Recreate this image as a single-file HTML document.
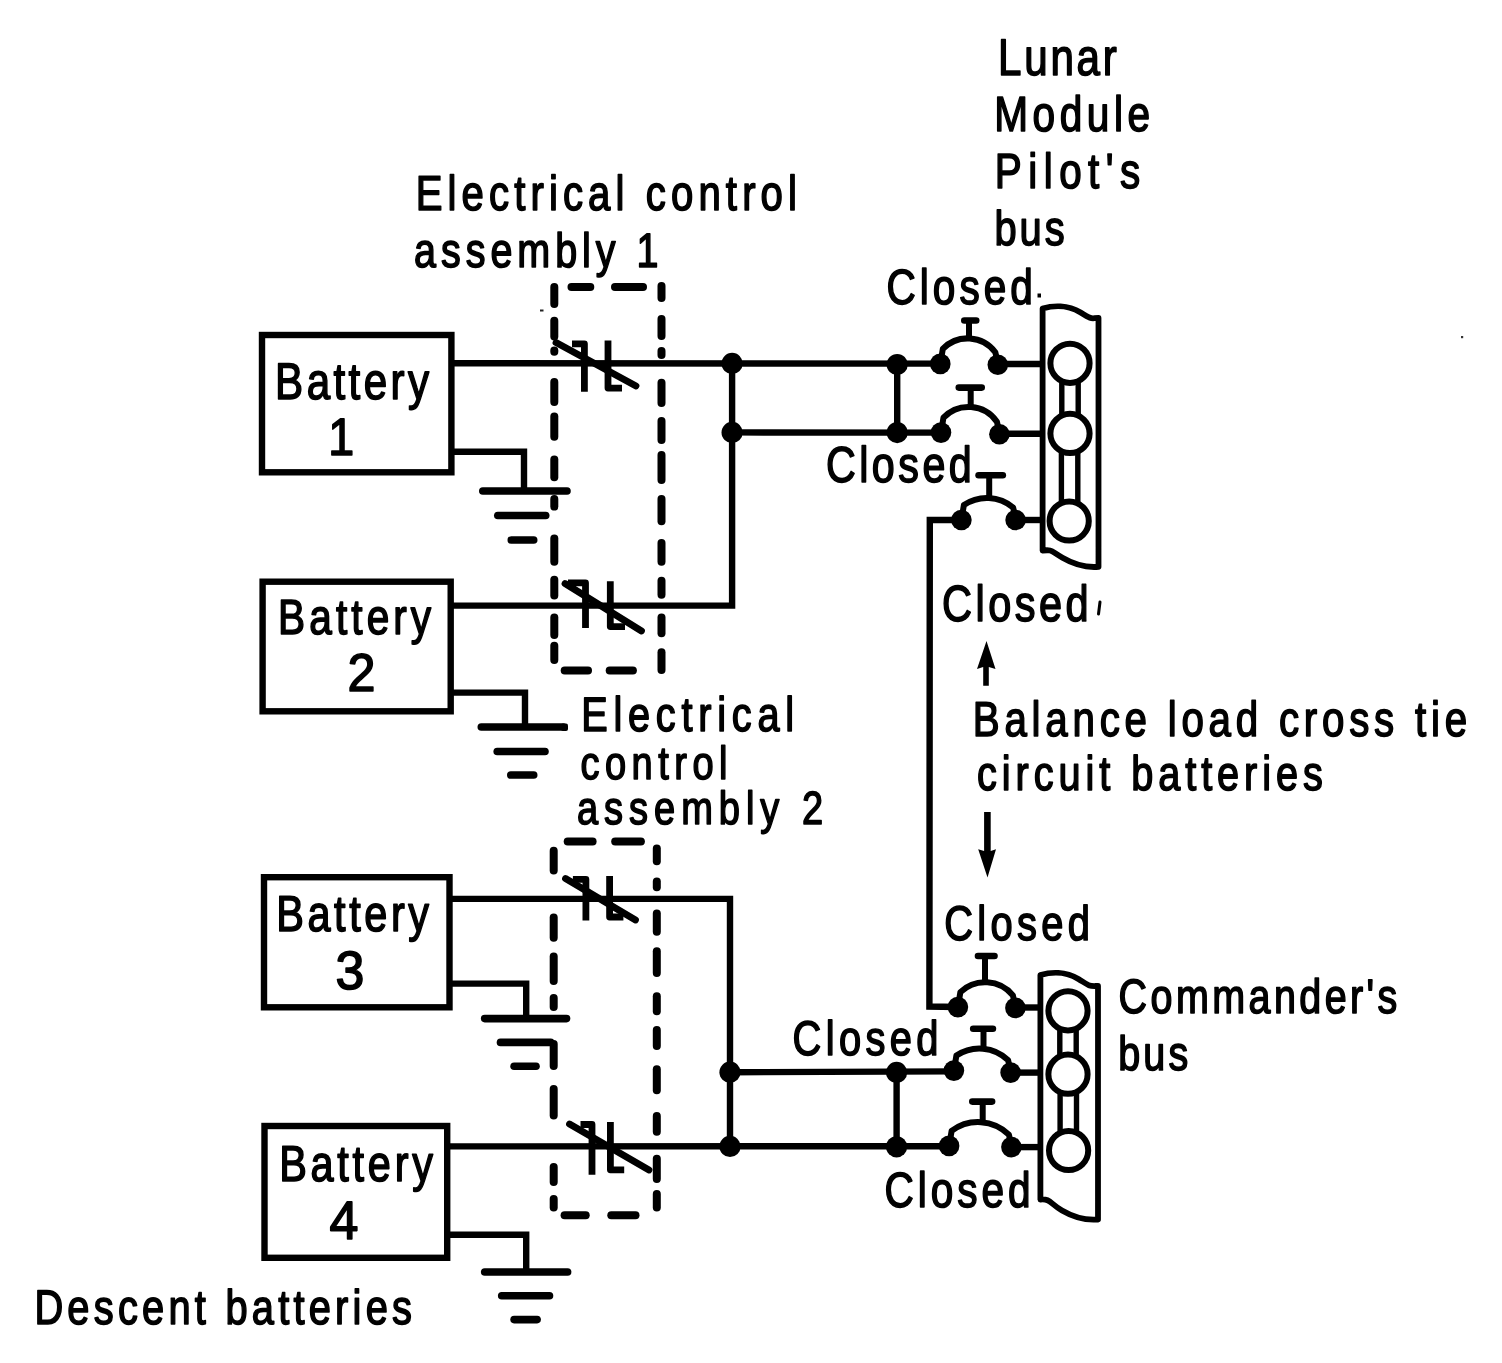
<!DOCTYPE html>
<html><head><meta charset="utf-8"><title>LM electrical</title>
<style>html,body{margin:0;padding:0;background:#fff;} svg{display:block;}</style></head>
<body>
<svg width="1502" height="1363" viewBox="0 0 1502 1363">
<rect width="1502" height="1363" fill="#fff"/>
<g stroke="#000" fill="none">
<rect x="262.0" y="335.0" width="189.4" height="137.3" fill="none" stroke-width="6.4"/>
<rect x="262.6" y="581.7" width="188.1" height="129.6" fill="none" stroke-width="6.4"/>
<rect x="264.0" y="877.2" width="185.5" height="130.1" fill="none" stroke-width="6.4"/>
<rect x="264.5" y="1126.0" width="182.7" height="131.8" fill="none" stroke-width="6.4"/>
<polyline points="451.4,451.8 524.0,451.8 524.0,491.0" fill="none" stroke-width="6.4" stroke-linecap="butt" stroke-linejoin="miter"/>
<line x1="482.8" y1="491.0" x2="567.0" y2="491.0" stroke-width="7.6" stroke-linecap="round"/>
<line x1="497.8" y1="515.5" x2="545.7" y2="515.5" stroke-width="7.6" stroke-linecap="round"/>
<line x1="511.3" y1="540.0" x2="533.7" y2="540.0" stroke-width="7.6" stroke-linecap="round"/>
<polyline points="450.7,692.6 525.0,692.6 525.0,727.0" fill="none" stroke-width="6.4" stroke-linecap="butt" stroke-linejoin="miter"/>
<line x1="481.3" y1="727.0" x2="563.1" y2="727.0" stroke-width="7.6" stroke-linecap="round"/>
<line x1="497.2" y1="751.5" x2="545.0" y2="751.5" stroke-width="7.6" stroke-linecap="round"/>
<line x1="510.8" y1="775.0" x2="533.7" y2="775.0" stroke-width="7.6" stroke-linecap="round"/>
<polyline points="449.5,983.6 526.2,983.6 526.2,1018.6" fill="none" stroke-width="6.4" stroke-linecap="butt" stroke-linejoin="miter"/>
<line x1="484.7" y1="1018.6" x2="566.5" y2="1018.6" stroke-width="7.6" stroke-linecap="round"/>
<line x1="500.5" y1="1042.4" x2="550.7" y2="1042.4" stroke-width="7.6" stroke-linecap="round"/>
<line x1="514.1" y1="1066.2" x2="536.0" y2="1066.2" stroke-width="7.6" stroke-linecap="round"/>
<polyline points="447.2,1234.7 526.2,1234.7 526.2,1272.0" fill="none" stroke-width="6.4" stroke-linecap="butt" stroke-linejoin="miter"/>
<line x1="484.7" y1="1272.0" x2="567.6" y2="1272.0" stroke-width="7.6" stroke-linecap="round"/>
<line x1="501.7" y1="1295.8" x2="549.5" y2="1295.8" stroke-width="7.6" stroke-linecap="round"/>
<line x1="514.1" y1="1319.6" x2="537.1" y2="1319.6" stroke-width="7.6" stroke-linecap="round"/>
<line x1="451.4" y1="363.2" x2="940.3" y2="363.6" stroke-width="6.4" stroke-linecap="butt"/>
<polyline points="450.7,605.6 732.1,605.6 732.1,363.4" fill="none" stroke-width="6.4" stroke-linecap="butt" stroke-linejoin="miter"/>
<line x1="732.1" y1="432.4" x2="941.0" y2="432.6" stroke-width="6.4" stroke-linecap="butt"/>
<line x1="897.2" y1="363.6" x2="897.2" y2="432.6" stroke-width="6.4" stroke-linecap="butt"/>
<polyline points="449.5,898.9 730.0,898.9 730.0,1146.4" fill="none" stroke-width="6.4" stroke-linecap="butt" stroke-linejoin="miter"/>
<line x1="447.2" y1="1146.4" x2="949.1" y2="1146.2" stroke-width="6.4" stroke-linecap="butt"/>
<line x1="730.0" y1="1072.2" x2="953.9" y2="1071.4" stroke-width="6.4" stroke-linecap="butt"/>
<line x1="896.6" y1="1072.2" x2="896.6" y2="1146.6" stroke-width="6.4" stroke-linecap="butt"/>
<circle cx="732.1" cy="363.4" r="10.6" fill="#000" stroke="none"/>
<circle cx="732.1" cy="432.4" r="10.6" fill="#000" stroke="none"/>
<circle cx="897.2" cy="364.5" r="10.6" fill="#000" stroke="none"/>
<circle cx="897.2" cy="432.6" r="10.6" fill="#000" stroke="none"/>
<circle cx="730.0" cy="1072.2" r="10.6" fill="#000" stroke="none"/>
<circle cx="730.0" cy="1146.4" r="10.6" fill="#000" stroke="none"/>
<circle cx="896.6" cy="1072.4" r="10.6" fill="#000" stroke="none"/>
<circle cx="896.6" cy="1146.8" r="10.6" fill="#000" stroke="none"/>
<polyline points="572.0,343.8 584.4,343.8 584.4,391.7" fill="none" stroke-width="6.8" stroke-linecap="butt" stroke-linejoin="round"/>
<polyline points="608.0,340.4 608.0,388.1 622.0,388.1" fill="none" stroke-width="6.8" stroke-linecap="butt" stroke-linejoin="round"/>
<line x1="556.0" y1="342.5" x2="636.0" y2="386.0" stroke-width="6.8" stroke-linecap="round"/>
<polyline points="568.0,582.8 585.5,582.8 585.5,628.0" fill="none" stroke-width="6.8" stroke-linecap="butt" stroke-linejoin="round"/>
<polyline points="610.3,581.3 610.3,626.6 625.0,626.6" fill="none" stroke-width="6.8" stroke-linecap="butt" stroke-linejoin="round"/>
<line x1="565.0" y1="583.5" x2="641.5" y2="631.0" stroke-width="6.8" stroke-linecap="round"/>
<polyline points="572.9,879.4 585.9,879.4 585.9,920.4" fill="none" stroke-width="6.8" stroke-linecap="butt" stroke-linejoin="round"/>
<polyline points="609.6,876.0 609.6,917.0 623.4,917.0" fill="none" stroke-width="6.8" stroke-linecap="butt" stroke-linejoin="round"/>
<line x1="565.5" y1="878.5" x2="635.5" y2="920.0" stroke-width="6.8" stroke-linecap="round"/>
<polyline points="580.5,1124.5 592.0,1124.5 592.0,1174.7" fill="none" stroke-width="6.8" stroke-linecap="butt" stroke-linejoin="round"/>
<polyline points="610.4,1121.9 610.4,1169.8 624.2,1169.8" fill="none" stroke-width="6.8" stroke-linecap="butt" stroke-linejoin="round"/>
<line x1="569.5" y1="1124.0" x2="649.0" y2="1170.0" stroke-width="6.8" stroke-linecap="round"/>
<line x1="554.3" y1="287.0" x2="554.3" y2="304.0" stroke-width="8.0" stroke-linecap="round"/>
<line x1="554.3" y1="320.7" x2="554.3" y2="336.4" stroke-width="8.0" stroke-linecap="round"/>
<line x1="554.3" y1="350.6" x2="554.3" y2="351.8" stroke-width="8.0" stroke-linecap="round"/>
<line x1="554.3" y1="382.0" x2="554.3" y2="402.0" stroke-width="8.0" stroke-linecap="round"/>
<line x1="554.3" y1="416.4" x2="554.3" y2="436.7" stroke-width="8.0" stroke-linecap="round"/>
<line x1="554.3" y1="459.6" x2="554.3" y2="477.3" stroke-width="8.0" stroke-linecap="round"/>
<line x1="554.3" y1="499.0" x2="554.3" y2="506.6" stroke-width="8.0" stroke-linecap="round"/>
<line x1="554.3" y1="538.5" x2="554.3" y2="561.7" stroke-width="8.0" stroke-linecap="round"/>
<line x1="554.3" y1="579.8" x2="554.3" y2="595.6" stroke-width="8.0" stroke-linecap="round"/>
<line x1="554.3" y1="617.4" x2="554.3" y2="635.0" stroke-width="8.0" stroke-linecap="round"/>
<line x1="554.3" y1="645.8" x2="554.3" y2="659.9" stroke-width="8.0" stroke-linecap="round"/>
<line x1="661.5" y1="286.0" x2="661.5" y2="298.0" stroke-width="8.0" stroke-linecap="round"/>
<line x1="661.5" y1="319.0" x2="661.5" y2="336.0" stroke-width="8.0" stroke-linecap="round"/>
<line x1="661.5" y1="351.0" x2="661.5" y2="355.0" stroke-width="8.0" stroke-linecap="round"/>
<line x1="661.5" y1="382.7" x2="661.5" y2="403.0" stroke-width="8.0" stroke-linecap="round"/>
<line x1="661.5" y1="421.0" x2="661.5" y2="440.0" stroke-width="8.0" stroke-linecap="round"/>
<line x1="661.5" y1="455.0" x2="661.5" y2="480.0" stroke-width="8.0" stroke-linecap="round"/>
<line x1="661.5" y1="499.0" x2="661.5" y2="521.3" stroke-width="8.0" stroke-linecap="round"/>
<line x1="661.5" y1="543.0" x2="661.5" y2="561.7" stroke-width="8.0" stroke-linecap="round"/>
<line x1="661.5" y1="580.7" x2="661.5" y2="594.7" stroke-width="8.0" stroke-linecap="round"/>
<line x1="661.5" y1="617.4" x2="661.5" y2="633.2" stroke-width="8.0" stroke-linecap="round"/>
<line x1="661.5" y1="652.3" x2="661.5" y2="670.0" stroke-width="8.0" stroke-linecap="round"/>
<line x1="571.5" y1="287.0" x2="590.3" y2="287.0" stroke-width="8.0" stroke-linecap="round"/>
<line x1="615.0" y1="287.0" x2="643.0" y2="287.0" stroke-width="8.0" stroke-linecap="round"/>
<line x1="564.7" y1="670.5" x2="588.0" y2="670.5" stroke-width="8.0" stroke-linecap="round"/>
<line x1="609.7" y1="670.5" x2="632.9" y2="670.5" stroke-width="8.0" stroke-linecap="round"/>
<line x1="553.7" y1="850.8" x2="553.7" y2="870.4" stroke-width="8.0" stroke-linecap="round"/>
<line x1="553.7" y1="917.5" x2="553.7" y2="937.8" stroke-width="8.0" stroke-linecap="round"/>
<line x1="553.7" y1="956.5" x2="553.7" y2="981.0" stroke-width="8.0" stroke-linecap="round"/>
<line x1="553.7" y1="998.0" x2="553.7" y2="1007.0" stroke-width="8.0" stroke-linecap="round"/>
<line x1="553.7" y1="1044.0" x2="553.7" y2="1066.0" stroke-width="8.0" stroke-linecap="round"/>
<line x1="553.7" y1="1089.0" x2="553.7" y2="1115.6" stroke-width="8.0" stroke-linecap="round"/>
<line x1="553.7" y1="1167.0" x2="553.7" y2="1182.0" stroke-width="8.0" stroke-linecap="round"/>
<line x1="553.7" y1="1199.0" x2="553.7" y2="1207.5" stroke-width="8.0" stroke-linecap="round"/>
<line x1="656.8" y1="848.5" x2="656.8" y2="861.2" stroke-width="8.0" stroke-linecap="round"/>
<line x1="656.8" y1="881.5" x2="656.8" y2="887.3" stroke-width="8.0" stroke-linecap="round"/>
<line x1="656.8" y1="913.6" x2="656.8" y2="931.7" stroke-width="8.0" stroke-linecap="round"/>
<line x1="656.8" y1="951.2" x2="656.8" y2="973.0" stroke-width="8.0" stroke-linecap="round"/>
<line x1="656.8" y1="996.3" x2="656.8" y2="1011.3" stroke-width="8.0" stroke-linecap="round"/>
<line x1="656.8" y1="1030.0" x2="656.8" y2="1046.0" stroke-width="8.0" stroke-linecap="round"/>
<line x1="656.8" y1="1069.2" x2="656.8" y2="1090.3" stroke-width="8.0" stroke-linecap="round"/>
<line x1="656.8" y1="1115.9" x2="656.8" y2="1131.7" stroke-width="8.0" stroke-linecap="round"/>
<line x1="656.8" y1="1158.8" x2="656.8" y2="1179.1" stroke-width="8.0" stroke-linecap="round"/>
<line x1="656.8" y1="1194.0" x2="656.8" y2="1207.5" stroke-width="8.0" stroke-linecap="round"/>
<line x1="567.7" y1="841.5" x2="592.6" y2="841.5" stroke-width="8.0" stroke-linecap="round"/>
<line x1="615.2" y1="841.5" x2="640.9" y2="841.5" stroke-width="8.0" stroke-linecap="round"/>
<line x1="564.6" y1="1215.3" x2="585.7" y2="1215.3" stroke-width="8.0" stroke-linecap="round"/>
<line x1="611.3" y1="1215.3" x2="635.5" y2="1215.3" stroke-width="8.0" stroke-linecap="round"/>
<circle cx="940.3" cy="363.9" r="10.3" fill="#000" stroke="none"/>
<circle cx="997.8" cy="364.7" r="10.3" fill="#000" stroke="none"/>
<path d="M941.3,357.9 L942.8,348.9 A34.6,34.6 0 0 1 995.3,352.2 L996.8,358.7" fill="none" stroke-width="6.0" stroke-linecap="butt" stroke-linejoin="round"/>
<line x1="969.0" y1="338.4" x2="969.0" y2="320.5" stroke-width="6.0" stroke-linecap="butt"/>
<line x1="964.3" y1="320.5" x2="976.2" y2="320.5" stroke-width="6.6" stroke-linecap="round"/>
<circle cx="941.0" cy="432.6" r="10.3" fill="#000" stroke="none"/>
<circle cx="999.4" cy="434.2" r="10.3" fill="#000" stroke="none"/>
<path d="M942.0,426.6 L943.5,417.6 A34.7,34.7 0 0 1 996.9,421.7 L998.4,428.2" fill="none" stroke-width="6.0" stroke-linecap="butt" stroke-linejoin="round"/>
<line x1="970.7" y1="407.0" x2="970.7" y2="387.6" stroke-width="6.0" stroke-linecap="butt"/>
<line x1="958.8" y1="387.6" x2="981.7" y2="387.6" stroke-width="6.6" stroke-linecap="round"/>
<circle cx="961.4" cy="520.0" r="10.3" fill="#000" stroke="none"/>
<circle cx="1015.6" cy="520.0" r="10.3" fill="#000" stroke="none"/>
<path d="M962.4,514.0 L963.9,505.0 A40.8,40.8 0 0 1 1013.1,507.5 L1014.6,514.0" fill="none" stroke-width="6.0" stroke-linecap="butt" stroke-linejoin="round"/>
<line x1="989.2" y1="498.0" x2="989.2" y2="475.2" stroke-width="6.0" stroke-linecap="butt"/>
<line x1="978.6" y1="475.2" x2="1002.8" y2="475.2" stroke-width="6.6" stroke-linecap="round"/>
<circle cx="957.9" cy="1007.1" r="10.3" fill="#000" stroke="none"/>
<circle cx="1015.4" cy="1007.9" r="10.3" fill="#000" stroke="none"/>
<path d="M958.9,1001.1 L960.4,992.1 A36.0,36.0 0 0 1 1012.9,995.4 L1014.4,1001.9" fill="none" stroke-width="6.0" stroke-linecap="butt" stroke-linejoin="round"/>
<line x1="985.0" y1="982.3" x2="985.0" y2="956.0" stroke-width="6.0" stroke-linecap="butt"/>
<line x1="978.0" y1="956.0" x2="994.5" y2="956.0" stroke-width="6.6" stroke-linecap="round"/>
<circle cx="953.9" cy="1070.6" r="10.3" fill="#000" stroke="none"/>
<circle cx="1010.6" cy="1072.6" r="10.3" fill="#000" stroke="none"/>
<path d="M954.9,1064.6 L956.4,1055.6 A41.1,41.1 0 0 1 1008.1,1060.1 L1009.6,1066.6" fill="none" stroke-width="6.0" stroke-linecap="butt" stroke-linejoin="round"/>
<line x1="983.5" y1="1048.7" x2="983.5" y2="1028.7" stroke-width="6.0" stroke-linecap="butt"/>
<line x1="973.2" y1="1028.7" x2="992.9" y2="1028.7" stroke-width="6.6" stroke-linecap="round"/>
<circle cx="949.1" cy="1145.9" r="10.3" fill="#000" stroke="none"/>
<circle cx="1011.4" cy="1147.1" r="10.3" fill="#000" stroke="none"/>
<path d="M950.1,1139.9 L951.6,1130.9 A44.1,44.1 0 0 1 1008.9,1134.6 L1010.4,1141.1" fill="none" stroke-width="6.0" stroke-linecap="butt" stroke-linejoin="round"/>
<line x1="982.7" y1="1122.3" x2="982.7" y2="1101.6" stroke-width="6.0" stroke-linecap="butt"/>
<line x1="972.3" y1="1101.6" x2="992.1" y2="1101.6" stroke-width="6.6" stroke-linecap="round"/>
<line x1="997.8" y1="364.0" x2="1043.0" y2="364.0" stroke-width="6.4" stroke-linecap="butt"/>
<line x1="999.4" y1="433.8" x2="1043.0" y2="433.8" stroke-width="6.4" stroke-linecap="butt"/>
<line x1="1015.6" y1="520.0" x2="1043.0" y2="520.0" stroke-width="6.4" stroke-linecap="butt"/>
<line x1="1015.4" y1="1007.5" x2="1040.0" y2="1007.5" stroke-width="6.4" stroke-linecap="butt"/>
<line x1="1010.6" y1="1072.6" x2="1040.0" y2="1072.6" stroke-width="6.4" stroke-linecap="butt"/>
<line x1="1011.4" y1="1147.1" x2="1040.0" y2="1147.1" stroke-width="6.4" stroke-linecap="butt"/>
<polyline points="961.4,520.0 929.8,520.0 929.4,1006.5 957.9,1007.0" fill="none" stroke-width="6.4" stroke-linecap="butt" stroke-linejoin="miter"/>
<path d="M1042.6,550.5 L1042.6,308.5 C1052.6,305.5 1067.6,304.5 1080.6,312.5 S1090.6,318.0 1098.5,318.0 L1098.5,566.8 C1086.5,567.8 1074.5,564.8 1062.5,557.8 S1052.6,549.5 1042.6,550.5 Z" fill="none" stroke-width="5.8" stroke-linecap="butt" stroke-linejoin="round"/>
<rect x="1061.8" y="363.3" width="16.4" height="70.1" fill="#fff" stroke-width="5.4"/>
<rect x="1061.4" y="433.4" width="16.4" height="87.6" fill="#fff" stroke-width="5.4"/>
<circle cx="1070.0" cy="363.3" r="19.6" fill="#fff" stroke-width="6.0"/>
<circle cx="1070.0" cy="433.4" r="19.6" fill="#fff" stroke-width="6.0"/>
<circle cx="1069.2" cy="521.0" r="19.6" fill="#fff" stroke-width="6.0"/>
<path d="M1040.4,1199.5 L1040.4,975.0 C1050.4,972.0 1065.4,971.0 1078.4,979.0 S1088.4,986.0 1098.0,986.0 L1098.0,1219.5 C1086.0,1220.5 1074.0,1217.5 1062.0,1210.5 S1050.4,1198.5 1040.4,1199.5 Z" fill="none" stroke-width="5.8" stroke-linecap="butt" stroke-linejoin="round"/>
<rect x="1059.8" y="1010.8" width="16.4" height="63.4" fill="#fff" stroke-width="5.4"/>
<rect x="1060.1" y="1074.2" width="16.4" height="76.3" fill="#fff" stroke-width="5.4"/>
<circle cx="1068.0" cy="1010.8" r="19.6" fill="#fff" stroke-width="6.0"/>
<circle cx="1068.0" cy="1074.2" r="19.6" fill="#fff" stroke-width="6.0"/>
<circle cx="1068.6" cy="1150.5" r="19.6" fill="#fff" stroke-width="6.0"/>
<path d="M986.5,641 L995.5,669 L988.8,667 L988.8,685.7 L983.2,685.7 L983.2,667 L977,669 Z" fill="#000" stroke-width="0" stroke-linecap="butt" stroke-linejoin="round"/>
<path d="M987.5,877.6 L996,849.2 L990.7,851 L990.7,811.9 L984.1,811.9 L984.1,851 L978.2,849.2 Z" fill="#000" stroke-width="0" stroke-linecap="butt" stroke-linejoin="round"/>
<rect x="1037.5" y="293.5" width="3.5" height="4" fill="#000" stroke="none"/>
<path d="M1100,602 L1098.5,614" fill="none" stroke-width="3" stroke-linecap="round" stroke-linejoin="round"/>
<rect x="561" y="723.5" width="7" height="7.5" rx="2" fill="#000" stroke="none"/>
<rect x="1461" y="336" width="2.2" height="2.2" fill="#333" stroke="none"/>
<rect x="540" y="309.5" width="3.5" height="2" fill="#222" stroke="none"/>
</g>
<g style="opacity:0.999" fill="#000" stroke="#000" stroke-width="1.6" stroke-linejoin="round" text-rendering="geometricPrecision" font-family="Liberation Sans, sans-serif">
<text transform="scale(0.82,1)" x="1217.12" y="75.3" font-size="51.39" textLength="144.90" lengthAdjust="spacing">Lunar</text>
<text transform="scale(0.82,1)" x="1212.47" y="131.3" font-size="49.47" textLength="190.06" lengthAdjust="spacing">Module</text>
<text transform="scale(0.82,1)" x="1213.24" y="188.1" font-size="49.25" textLength="177.20" lengthAdjust="spacing">Pilot&#39;s</text>
<text transform="scale(0.82,1)" x="1212.74" y="245.3" font-size="48.62" textLength="85.61" lengthAdjust="spacing">bus</text>
<text transform="scale(0.82,1)" x="506.90" y="209.6" font-size="48.96" textLength="465.01" lengthAdjust="spacing">Electrical control</text>
<text transform="scale(0.82,1)" x="504.99" y="267.0" font-size="48.18" textLength="297.98" lengthAdjust="spacing">assembly 1</text>
<text transform="scale(0.82,1)" x="335.53" y="398.7" font-size="51.39" textLength="187.64" lengthAdjust="spacing">Battery</text>
<text transform="scale(0.82,1)" x="400.34" y="454.7" font-size="52.48" textLength="31.60" lengthAdjust="spacingAndGlyphs">1</text>
<text transform="scale(0.82,1)" x="339.17" y="634.1" font-size="49.50" textLength="186.65" lengthAdjust="spacing">Battery</text>
<text transform="scale(0.82,1)" x="423.69" y="691.3" font-size="53.29" textLength="34.09" lengthAdjust="spacingAndGlyphs">2</text>
<text transform="scale(0.82,1)" x="336.90" y="931.4" font-size="50.56" textLength="186.28" lengthAdjust="spacing">Battery</text>
<text transform="scale(0.82,1)" x="409.16" y="988.6" font-size="53.92" textLength="35.21" lengthAdjust="spacingAndGlyphs">3</text>
<text transform="scale(0.82,1)" x="340.44" y="1180.8" font-size="50.56" textLength="187.55" lengthAdjust="spacing">Battery</text>
<text transform="scale(0.82,1)" x="401.91" y="1238.6" font-size="53.92" textLength="35.23" lengthAdjust="spacingAndGlyphs">4</text>
<text transform="scale(0.82,1)" x="1081.05" y="304.1" font-size="49.47" textLength="178.62" lengthAdjust="spacing">Closed</text>
<text transform="scale(0.82,1)" x="1007.23" y="481.5" font-size="50.32" textLength="177.87" lengthAdjust="spacing">Closed</text>
<text transform="scale(0.82,1)" x="1148.81" y="620.5" font-size="50.60" textLength="178.73" lengthAdjust="spacing">Closed</text>
<text transform="scale(0.82,1)" x="1151.57" y="940.3" font-size="48.62" textLength="177.58" lengthAdjust="spacing">Closed</text>
<text transform="scale(0.82,1)" x="966.57" y="1054.7" font-size="48.59" textLength="177.86" lengthAdjust="spacing">Closed</text>
<text transform="scale(0.82,1)" x="1078.63" y="1207.0" font-size="49.49" textLength="178.30" lengthAdjust="spacing">Closed</text>
<text transform="scale(0.82,1)" x="1186.28" y="735.8" font-size="49.14" textLength="602.86" lengthAdjust="spacing">Balance load cross tie</text>
<text transform="scale(0.82,1)" x="1191.57" y="789.5" font-size="48.42" textLength="421.70" lengthAdjust="spacing">circuit batteries</text>
<text transform="scale(0.82,1)" x="708.76" y="730.9" font-size="48.41" textLength="259.72" lengthAdjust="spacing">Electrical</text>
<text transform="scale(0.82,1)" x="707.84" y="778.5" font-size="46.36" textLength="179.38" lengthAdjust="spacing">control</text>
<text transform="scale(0.82,1)" x="703.56" y="823.5" font-size="46.36" textLength="300.15" lengthAdjust="spacing">assembly 2</text>
<text transform="scale(0.82,1)" x="1364.16" y="1012.9" font-size="48.15" textLength="339.87" lengthAdjust="spacing">Commander&#39;s</text>
<text transform="scale(0.82,1)" x="1363.60" y="1069.9" font-size="48.18" textLength="85.54" lengthAdjust="spacing">bus</text>
<text transform="scale(0.82,1)" x="41.93" y="1324.3" font-size="48.59" textLength="460.51" lengthAdjust="spacing">Descent batteries</text>
</g>
</svg>
</body></html>
